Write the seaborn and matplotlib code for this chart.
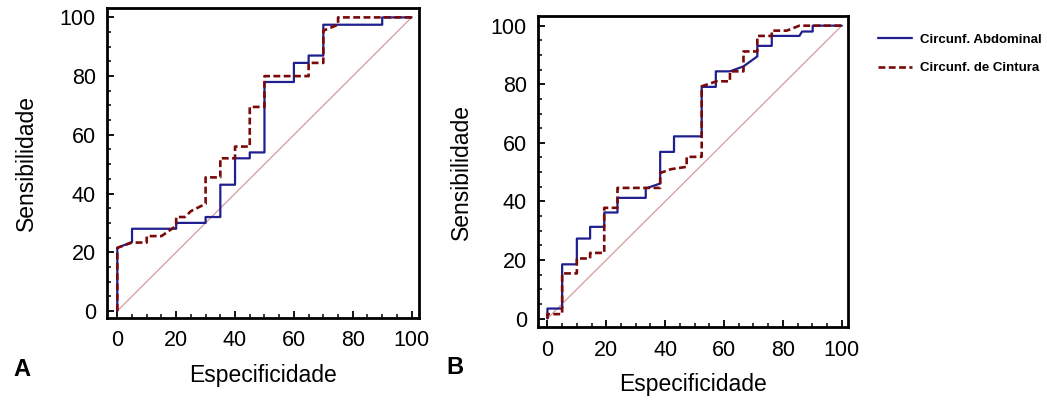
import matplotlib.pyplot as plt
import matplotlib.ticker as ticker
import seaborn as sns

# Dados (curvas ROC)
# Painel A
a_abd_x = [0, 0, 5, 5, 20, 20, 30, 30, 35, 35, 40, 40, 45, 45, 50, 50, 60, 60, 65, 65, 70, 70, 90, 90, 100]
a_abd_y = [0, 21.5, 23.5, 28, 28, 30, 30, 32, 32, 43, 43, 52, 52, 54, 54, 78, 78, 84.5, 84.5, 87, 87, 97.5, 97.5, 100, 100]
a_cin_x = [0, 0, 5, 10, 10, 15, 20, 20, 23, 25, 30, 30, 35, 35, 40, 40, 45, 45, 50, 50, 65, 65, 70, 70, 75, 75, 100]
a_cin_y = [0, 21.5, 23.3, 23.3, 25.5, 25.5, 29, 32, 32, 34, 36.5, 45.5, 45.5, 52, 52, 56, 56, 69.5, 69.5, 80, 80, 84.5, 84.5, 95.5, 97.5, 100, 100]

# Painel B
b_abd_x = [0, 0, 5, 5, 10, 10, 14.5, 14.5, 19.3, 19.3, 23.8, 23.8, 33.4, 33.4, 38.3, 38.3, 43, 43,
           52.4, 52.4, 57.2, 57.2, 62, 66.6, 71.3, 71.3, 76.2, 76.2, 85.6, 86.5, 90.1, 90.1, 100]
b_abd_y = [0, 3.4, 3.4, 18.5, 18.5, 27.3, 27.3, 31.3, 31.3, 36.2, 36.2, 41.2, 41.2, 44.4, 46.1, 56.9, 56.9, 62.2,
           62.2, 79.1, 79.1, 84.4, 84.4, 86.1, 89.5, 93.1, 93.1, 96.5, 96.5, 98, 98, 100, 100]
b_cin_x = [0, 0, 5, 5, 10, 10, 14.5, 14.5, 19.3, 19.3, 23.8, 23.8, 38.3, 38.3, 42, 47.3, 47.3, 52.4, 52.4,
           57.5, 62, 62, 66.6, 66.6, 71.3, 71.3, 76.2, 76.2, 81.3, 85.6, 100]
b_cin_y = [0, 1.5, 1.5, 15.4, 15.4, 20.5, 20.5, 22.4, 22.4, 37.8, 37.8, 44.6, 44.6, 49.7, 51, 51.8, 55.2, 55.2, 79.3,
           81, 81, 84.4, 84.4, 91.2, 91.2, 96.5, 96.5, 98.3, 98.3, 100, 100]

diag = [0, 100]
ticks_maiores = [0, 20, 40, 60, 80, 100]

COR_ABD = '#1f1f8f'
COR_CIN = '#7a0a0a'
COR_DIAG = '#d49c9c'

sns.set_style("white")
plt.rcParams['font.family'] = ['Liberation Sans', 'DejaVu Sans']
plt.rcParams['text.color'] = 'black'
plt.rcParams['axes.labelcolor'] = 'black'
plt.rcParams['xtick.color'] = 'black'
plt.rcParams['ytick.color'] = 'black'

fig = plt.figure(figsize=(10.47, 4.0), dpi=100)
ax_a = fig.add_axes([107 / 1047, 1 - 318 / 400, 312 / 1047, 310 / 400])
ax_b = fig.add_axes([538 / 1047, 1 - 327 / 400, 310 / 1047, 311 / 400])


def desenha_painel(ax, abd_x, abd_y, cin_x, cin_y, xlim, ylim, ylabelpad):
    sns.lineplot(x=diag, y=diag, ax=ax, color=COR_DIAG, lw=0.9, sort=False, estimator=None)
    sns.lineplot(x=abd_x, y=abd_y, ax=ax, color=COR_ABD, lw=1.6, sort=False, estimator=None,
                 label='Circunf. Abdominal')
    sns.lineplot(x=cin_x, y=cin_y, ax=ax, color=COR_CIN, lw=1.9, sort=False, estimator=None,
                 linestyle=(0, (2.6, 1.3)), label='Circunf. de Cintura')
    ax.set_xlim(*xlim)
    ax.set_ylim(*ylim)
    ax.set_xticks(ticks_maiores)
    ax.set_yticks(ticks_maiores)
    ax.xaxis.set_minor_locator(ticker.MultipleLocator(5))
    ax.yaxis.set_minor_locator(ticker.MultipleLocator(5))
    ax.tick_params(which='major', direction='in', length=5, width=1.3, labelsize=15.5,
                   bottom=True, left=True, top=False, right=False)
    ax.tick_params(which='minor', direction='in', length=3, width=1.1,
                   bottom=True, left=True, top=False, right=False)
    ax.tick_params(axis='x', which='major', pad=9)
    ax.tick_params(axis='y', which='major', pad=8)
    for sp in ax.spines.values():
        sp.set_visible(True)
        sp.set_linewidth(2.0)
        sp.set_color('black')
    ax.set_xlabel('Especificidade', fontsize=16.5, labelpad=9)
    ax.set_ylabel('Sensibilidade', fontsize=16.5, labelpad=ylabelpad)
    ax.legend().remove()


desenha_painel(ax_a, a_abd_x, a_abd_y, a_cin_x, a_cin_y, (-3.5, 102.5), (-2.4, 103.2), 16)
desenha_painel(ax_b, b_abd_x, b_abd_y, b_cin_x, b_cin_y, (-3.2, 102.1), (-2.9, 103.3), 13)

handles, labels = ax_b.get_legend_handles_labels()
fig.legend(handles, labels, loc='upper left', bbox_to_anchor=(866 / 1047, 1 - 22 / 400),
           frameon=False, handlelength=2.6, handletextpad=0.6, labelspacing=1.2,
           prop={'weight': 'bold', 'size': 9.5})

fig.text(22 / 1047, 1 - 369 / 400, 'A', fontsize=17, fontweight='bold', ha='center', va='center')
fig.text(455 / 1047, 1 - 368 / 400, 'B', fontsize=17, fontweight='bold', ha='center', va='center')

fig.savefig('out.png', dpi=100, facecolor='white')
